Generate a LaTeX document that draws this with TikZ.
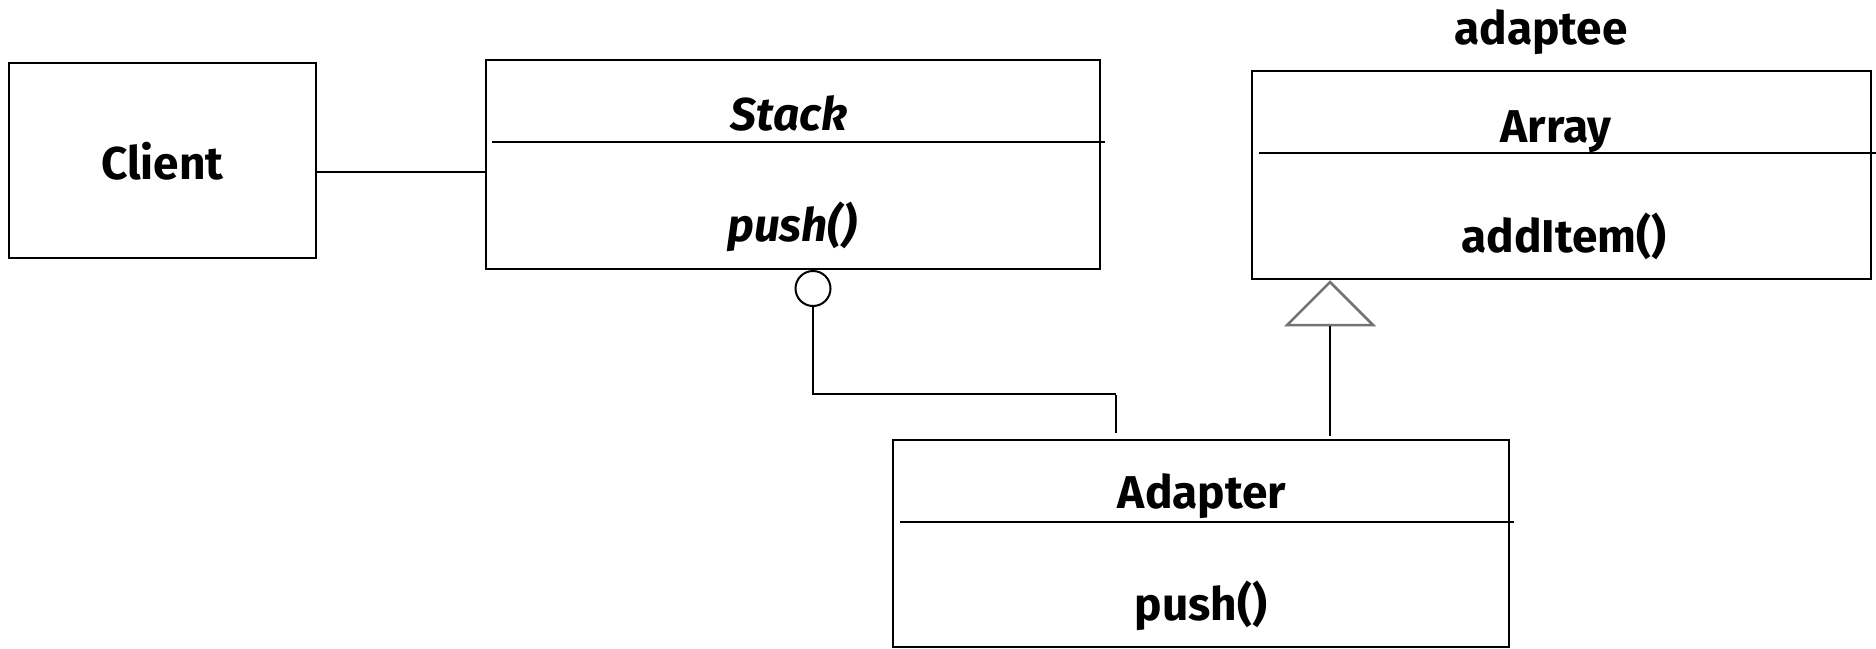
\documentclass[tikz,border=0pt]{standalone}
\usepackage{fontspec}
\setmainfont{Fira Sans}
\usetikzlibrary{calc}
\begin{document}
\begin{tikzpicture}[x=1pt,y=-1pt,
  every node/.style={font=\fontsize{46}{50}\selectfont\bfseries},
  umlbox/.style={draw, line width=2pt, inner sep=0pt, rectangle},
  classtext/.style={anchor=base, inner sep=0pt},
  abstract/.style={classtext, font=\fontsize{46}{50}\selectfont\bfseries\itshape},
  wire/.style={line width=2pt},
  genhead/.style={draw=black!55, line width=2.5pt, line join=miter},
]
\useasboundingbox (0,0) rectangle (1876,648);

% class boxes
\node[umlbox, minimum width=307.4pt, minimum height=195pt] (client) at (162.3,160.8) {Client};
\node[umlbox, minimum width=614pt, minimum height=209pt] (stack) at (793,164.5) {};
\node[umlbox, minimum width=619.4pt, minimum height=208.6pt] (array) at (1561.3,175) {};
\node[umlbox, minimum width=615.2pt, minimum height=206.4pt] (adapter) at (1201,543.5) {};

% compartment separators
\draw[wire] ($(stack.north west)+(7,83.3)$) -- ($(stack.north east)+(4,83.3)$);
\draw[wire] ($(array.north west)+(8,83.3)$) -- ($(array.north east)+(4,83.3)$);
\draw[wire] ($(adapter.north west)+(8,83)$) -- ($(adapter.north east)+(4,83)$);

% class names and operations
\node[abstract] (stackname) at (789,130) {Stack};
\node[abstract] (stackop) at (792,241) {push()};
\node[classtext] (arrayname) at (1556,142) {Array};
\node[classtext] (arrayop) at (1564,252) {addItem()};
\node[classtext] (adaptee) at (1541,44) {adaptee};
\node[classtext] (adaptername) at (1202,508) {Adapter};
\node[classtext] (adapterop) at (1201,620) {push()};

% association Client -- Stack
\coordinate (assoc) at (400,171.7);
\draw[wire] (client.east |- assoc) -- (stack.west |- assoc);

% provided interface (lollipop) on Stack, realised by Adapter
\node[draw, circle, line width=2pt, minimum size=35pt, inner sep=0pt] (iface) at (813,288.5) {};
\coordinate (elbow) at (1116,393.5);
\draw[wire] (iface.south) |- (elbow);
\draw[wire] ([yshift=-1.5pt]elbow) -- ([yshift=6pt]adapter.north -| elbow);

% generalisation Adapter -> Array
\coordinate (tip) at (1330,282);
\draw[genhead] (tip) -- ++(-43,43) -- ++(86,0) -- cycle;
\draw[wire] ([yshift=3pt]adapter.north -| tip) -- ($(tip)+(0,44)$);
\end{tikzpicture}
\end{document}
